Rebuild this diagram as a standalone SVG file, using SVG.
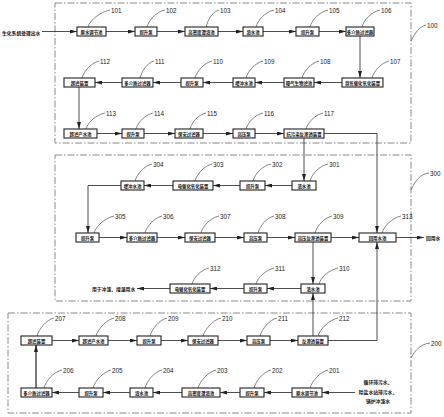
<svg xmlns="http://www.w3.org/2000/svg" width="444" height="417" viewBox="0 0 444 417">
<defs>
<marker id="ah" markerWidth="7" markerHeight="4" refX="7" refY="2" orient="auto" markerUnits="userSpaceOnUse"><path d="M0,0 L7,2 L0,4 Z" fill="#222"/></marker>
</defs>
<style>
.fr{fill:none;stroke:#8a8a8a;stroke-width:1;stroke-dasharray:7 2 1.5 2}
.b{fill:#fff;stroke:#222;stroke-width:1.1}
.t{font-family:"Noto Sans CJK SC","Noto Sans",sans-serif;font-size:4.4px;font-weight:bold;fill:#111;text-anchor:middle;dominant-baseline:central}
.n{font-family:"Liberation Sans",Arial,sans-serif;font-size:6.3px;fill:#222;dominant-baseline:central}
.ld{fill:none;stroke:#333;stroke-width:0.6}
.c{fill:none;stroke:#222;stroke-width:0.8}
.a{marker-end:url(#ah)}
.x{font-family:"Noto Sans CJK SC","Noto Sans",sans-serif;font-size:4.8px;font-weight:bold;fill:#111;dominant-baseline:central}
</style>
<g id="frames">
<rect class="fr" x="55" y="3" width="356" height="140"/>
<rect class="fr" x="55" y="155" width="356" height="146"/>
<rect class="fr" x="8" y="313" width="403" height="100"/>
<path class="ld" d="M411,41 C415,33 419,27 426,25"/><text class="n" x="427" y="25">100</text>
<path class="ld" d="M411,190 C415,181 420,174 429,173"/><text class="n" x="430" y="173">300</text>
<path class="ld" d="M411,358 C415,350 421,344 430,343"/><text class="n" x="431" y="343">200</text>
</g>
<g id="connectors">
<path class="c a" d="M42,31.5 H77"/>
<path class="c a" d="M106,31.5 H135"/>
<path class="c a" d="M157,31.5 H185"/>
<path class="c a" d="M218,31.5 H243"/>
<path class="c a" d="M263,31.5 H296"/>
<path class="c a" d="M319,31.5 H346"/>
<path class="c a" d="M360,36 V78"/>
<path class="c a" d="M342,82.5 H314"/>
<path class="c a" d="M284,82.5 H255"/>
<path class="c a" d="M233,82.5 H203"/>
<path class="c a" d="M181,82.5 H153"/>
<path class="c a" d="M122,82.5 H95"/>
<path class="c a" d="M79,87 V129"/>
<path class="c a" d="M97,133.5 H122"/>
<path class="c a" d="M144,133.5 H175"/>
<path class="c a" d="M203,133.5 H233"/>
<path class="c a" d="M255,133.5 H284"/>
<path class="c a" d="M304,138 V181"/>
<path class="c a" d="M324,133.5 H377 V233"/>
<path class="c a" d="M292,185.5 H265"/>
<path class="c a" d="M240,185.5 H213"/>
<path class="c a" d="M173,185.5 H144"/>
<path class="c a" d="M121,185.5 H88 V233"/>
<path class="c a" d="M99,237.5 H127"/>
<path class="c a" d="M157,237.5 H185"/>
<path class="c a" d="M215,237.5 H244"/>
<path class="c a" d="M267,237.5 H295"/>
<path class="c a" d="M331,237.5 H359"/>
<path class="c a" d="M396,237.5 H424"/>
<path class="c a" d="M313,242 V284"/>
<path class="c a" d="M301,288.5 H267"/>
<path class="c a" d="M244,288.5 H210"/>
<path class="c a" d="M170,288.5 H137"/>
<path class="c a" d="M52,340.5 H79"/>
<path class="c a" d="M108,340.5 H137"/>
<path class="c a" d="M161,340.5 H188"/>
<path class="c a" d="M218,340.5 H247"/>
<path class="c a" d="M270,340.5 H298"/>
<path class="c a" d="M313,336 V293"/>
<path class="c a" d="M328,340.5 H377 V242"/>
<path class="c a" d="M355,392.5 H322"/>
<path class="c a" d="M292,392.5 H264"/>
<path class="c a" d="M240,392.5 H220"/>
<path class="c a" d="M182,392.5 H153"/>
<path class="c a" d="M130,392.5 H103"/>
<path class="c a" d="M79,392.5 H52"/>
<path class="c a" style="stroke-width:1.2" d="M36,388 V345"/>
</g>
<g id="texts">
<text class="x" x="2" y="32">生化系统处理出水</text>
<text class="x" x="426" y="237.5">回用水</text>
<text class="x" x="92" y="288.5">用于冲渣、增湿用水</text>
<text class="x" x="378" y="381" text-anchor="middle">循环排污水、</text>
<text class="x" x="378" y="391" text-anchor="middle">除盐水站排污水、</text>
<text class="x" x="378" y="400.5" text-anchor="middle">锅炉冲渣水</text>
</g>
<g id="n101"><rect class="b" x="77" y="27" width="29" height="9"/><text class="t" x="91.5" y="31.5">原水调节池</text><path class="ld" d="M88,27 C90,20 100,12 110,10"/><text class="n" x="111" y="10">101</text></g>
<g id="n102"><rect class="b" x="135" y="27" width="22" height="9"/><text class="t" x="146" y="31.5">提升泵</text><path class="ld" d="M147,27 C149,20 156,12 165,10"/><text class="n" x="166" y="10">102</text></g>
<g id="n103"><rect class="b" x="185" y="27" width="33" height="9"/><text class="t" x="201.5" y="31.5">高密度澄清池</text><path class="ld" d="M206,27 C208,20 212,12 219,10"/><text class="n" x="220" y="10">103</text></g>
<g id="n104"><rect class="b" x="243" y="27" width="20" height="9"/><text class="t" x="253" y="31.5">清水池</text><path class="ld" d="M256,27 C258,20 265,12 274,10"/><text class="n" x="275" y="10">104</text></g>
<g id="n105"><rect class="b" x="296" y="27" width="23" height="9"/><text class="t" x="307.5" y="31.5">提升泵</text><path class="ld" d="M310,27 C312,20 319,12 328,10"/><text class="n" x="329" y="10">105</text></g>
<g id="n106"><rect class="b" x="346" y="27" width="28" height="9"/><text class="t" x="360" y="31.5">多介质过滤器</text><path class="ld" d="M362,27 C364,20 371,12 380,10"/><text class="n" x="381" y="10">106</text></g>
<g id="n107"><rect class="b" x="342" y="78" width="41" height="9"/><text class="t" x="362.5" y="82.5">臭氧催化氧化装置</text><path class="ld" d="M372,78 C374,71 381,63 389,61"/><text class="n" x="390" y="61">107</text></g>
<g id="n108"><rect class="b" x="284" y="78" width="30" height="9"/><text class="t" x="299" y="82.5">曝气生物滤池</text><path class="ld" d="M302,78 C304,71 311,63 319,61"/><text class="n" x="320" y="61">108</text></g>
<g id="n109"><rect class="b" x="233" y="78" width="22" height="9"/><text class="t" x="244" y="82.5">缓冲水池</text><path class="ld" d="M246,78 C248,71 255,63 263,61"/><text class="n" x="264" y="61">109</text></g>
<g id="n110"><rect class="b" x="181" y="78" width="22" height="9"/><text class="t" x="192" y="82.5">提升泵</text><path class="ld" d="M195,78 C197,71 204,63 212,61"/><text class="n" x="213" y="61">110</text></g>
<g id="n111"><rect class="b" x="122" y="78" width="31" height="9"/><text class="t" x="137.5" y="82.5">多介质过滤器</text><path class="ld" d="M140,78 C142,71 147,63 154,61"/><text class="n" x="155" y="61">111</text></g>
<g id="n112"><rect class="b" x="64" y="78" width="31" height="9"/><text class="t" x="79.5" y="82.5">超滤装置</text><path class="ld" d="M82,78 C84,71 91,63 99,61"/><text class="n" x="100" y="61">112</text></g>
<g id="n113"><rect class="b" x="64" y="129" width="33" height="9"/><text class="t" x="80.5" y="133.5">超滤产水池</text><path class="ld" d="M86,129 C88,122 96,115 105,113"/><text class="n" x="106" y="113">113</text></g>
<g id="n114"><rect class="b" x="122" y="129" width="22" height="9"/><text class="t" x="133" y="133.5">提升泵</text><path class="ld" d="M136,129 C138,122 145,115 153,113"/><text class="n" x="154" y="113">114</text></g>
<g id="n115"><rect class="b" x="175" y="129" width="28" height="9"/><text class="t" x="189" y="133.5">保安过滤器</text><path class="ld" d="M190,129 C192,122 198,115 206,113"/><text class="n" x="207" y="113">115</text></g>
<g id="n116"><rect class="b" x="233" y="129" width="22" height="9"/><text class="t" x="244" y="133.5">高压泵</text><path class="ld" d="M246,129 C248,122 255,115 263,113"/><text class="n" x="264" y="113">116</text></g>
<g id="n117"><rect class="b" x="284" y="129" width="40" height="9"/><text class="t" x="304" y="133.5">抗污染反渗透装置</text><path class="ld" d="M306,129 C308,122 315,115 323,113"/><text class="n" x="324" y="113">117</text></g>
<g id="n301"><rect class="b" x="292" y="181" width="24" height="9"/><text class="t" x="304" y="185.5">浓水池</text><path class="ld" d="M310,181 C312,174 319,166 328,164"/><text class="n" x="329" y="164">301</text></g>
<g id="n302"><rect class="b" x="240" y="181" width="25" height="9"/><text class="t" x="252.5" y="185.5">提升泵</text><path class="ld" d="M253,181 C255,174 262,166 271,164"/><text class="n" x="272" y="164">302</text></g>
<g id="n303"><rect class="b" x="173" y="181" width="40" height="9"/><text class="t" x="193" y="185.5">电催化氧化装置</text><path class="ld" d="M195,181 C197,174 204,166 212,164"/><text class="n" x="213" y="164">303</text></g>
<g id="n304"><rect class="b" x="121" y="181" width="23" height="9"/><text class="t" x="132.5" y="185.5">缓冲水池</text><path class="ld" d="M135,181 C137,174 144,166 152,164"/><text class="n" x="153" y="164">304</text></g>
<g id="n305"><rect class="b" x="76" y="233" width="23" height="9"/><text class="t" x="87.5" y="237.5">提升泵</text><path class="ld" d="M94,233 C96,226 105,218 114,216"/><text class="n" x="115" y="216">305</text></g>
<g id="n306"><rect class="b" x="127" y="233" width="30" height="9"/><text class="t" x="142" y="237.5">多介质过滤器</text><path class="ld" d="M145,233 C147,226 154,218 162,216"/><text class="n" x="163" y="216">306</text></g>
<g id="n307"><rect class="b" x="185" y="233" width="30" height="9"/><text class="t" x="200" y="237.5">保安过滤器</text><path class="ld" d="M201,233 C203,226 210,218 219,216"/><text class="n" x="220" y="216">307</text></g>
<g id="n308"><rect class="b" x="244" y="233" width="23" height="9"/><text class="t" x="255.5" y="237.5">高压泵</text><path class="ld" d="M258,233 C260,226 266,218 274,216"/><text class="n" x="275" y="216">308</text></g>
<g id="n309"><rect class="b" x="295" y="233" width="36" height="9"/><text class="t" x="313" y="237.5">高压反渗透装置</text><path class="ld" d="M315,233 C317,226 324,218 332,216"/><text class="n" x="333" y="216">309</text></g>
<g id="n313"><rect class="b" x="359" y="233" width="37" height="9"/><text class="t" x="377.5" y="237.5">回用水池</text><path class="ld" d="M382,233 C384,226 392,218 401,216"/><text class="n" x="402" y="216">313</text></g>
<g id="n310"><rect class="b" x="301" y="284" width="24" height="9"/><text class="t" x="313" y="288.5">浓水池</text><path class="ld" d="M319,284 C321,277 329,270 338,268"/><text class="n" x="339" y="268">310</text></g>
<g id="n311"><rect class="b" x="244" y="284" width="23" height="9"/><text class="t" x="255.5" y="288.5">提升泵</text><path class="ld" d="M256,284 C258,277 266,270 274,268"/><text class="n" x="275" y="268">311</text></g>
<g id="n312"><rect class="b" x="170" y="284" width="40" height="9"/><text class="t" x="190" y="288.5">电催化氧化装置</text><path class="ld" d="M192,284 C194,277 201,270 209,268"/><text class="n" x="210" y="268">312</text></g>
<g id="n207"><rect class="b" x="21" y="336" width="31" height="9"/><text class="t" x="36.5" y="340.5">超滤装置</text><path class="ld" d="M37,336 C39,329 46,320 54,318"/><text class="n" x="55" y="318">207</text></g>
<g id="n208"><rect class="b" x="79" y="336" width="29" height="9"/><text class="t" x="93.5" y="340.5">超滤产水池</text><path class="ld" d="M96,336 C98,329 106,320 114,318"/><text class="n" x="115" y="318">208</text></g>
<g id="n209"><rect class="b" x="137" y="336" width="24" height="9"/><text class="t" x="149" y="340.5">提升泵</text><path class="ld" d="M150,336 C152,329 159,320 167,318"/><text class="n" x="168" y="318">209</text></g>
<g id="n210"><rect class="b" x="188" y="336" width="30" height="9"/><text class="t" x="203" y="340.5">保安过滤器</text><path class="ld" d="M203,336 C205,329 213,320 221,318"/><text class="n" x="222" y="318">210</text></g>
<g id="n211"><rect class="b" x="247" y="336" width="23" height="9"/><text class="t" x="258.5" y="340.5">高压泵</text><path class="ld" d="M260,336 C262,329 269,320 277,318"/><text class="n" x="278" y="318">211</text></g>
<g id="n212"><rect class="b" x="298" y="336" width="30" height="9"/><text class="t" x="313" y="340.5">反渗透装置</text><path class="ld" d="M318,336 C320,329 329,320 338,318"/><text class="n" x="339" y="318">212</text></g>
<g id="n206"><rect class="b" x="21" y="388" width="31" height="9"/><text class="t" x="36.5" y="392.5">多介质过滤器</text><path class="ld" d="M44,388 C46,381 53,372 62,370"/><text class="n" x="63" y="370">206</text></g>
<g id="n205"><rect class="b" x="79" y="388" width="24" height="9"/><text class="t" x="91" y="392.5">提升泵</text><path class="ld" d="M93,388 C95,381 103,372 111,370"/><text class="n" x="112" y="370">205</text></g>
<g id="n204"><rect class="b" x="130" y="388" width="23" height="9"/><text class="t" x="141.5" y="392.5">清水池</text><path class="ld" d="M145,388 C147,381 154,372 162,370"/><text class="n" x="163" y="370">204</text></g>
<g id="n203"><rect class="b" x="182" y="388" width="38" height="9"/><text class="t" x="201" y="392.5">高密度澄清池</text><path class="ld" d="M198,388 C200,381 208,372 216,370"/><text class="n" x="217" y="370">203</text></g>
<g id="n202"><rect class="b" x="240" y="388" width="24" height="9"/><text class="t" x="252" y="392.5">提升泵</text><path class="ld" d="M254,388 C256,381 263,372 271,370"/><text class="n" x="272" y="370">202</text></g>
<g id="n201"><rect class="b" x="292" y="388" width="30" height="9"/><text class="t" x="307" y="392.5">原水调节池</text><path class="ld" d="M310,388 C312,381 320,372 328,370"/><text class="n" x="329" y="370">201</text></g>
</svg>
